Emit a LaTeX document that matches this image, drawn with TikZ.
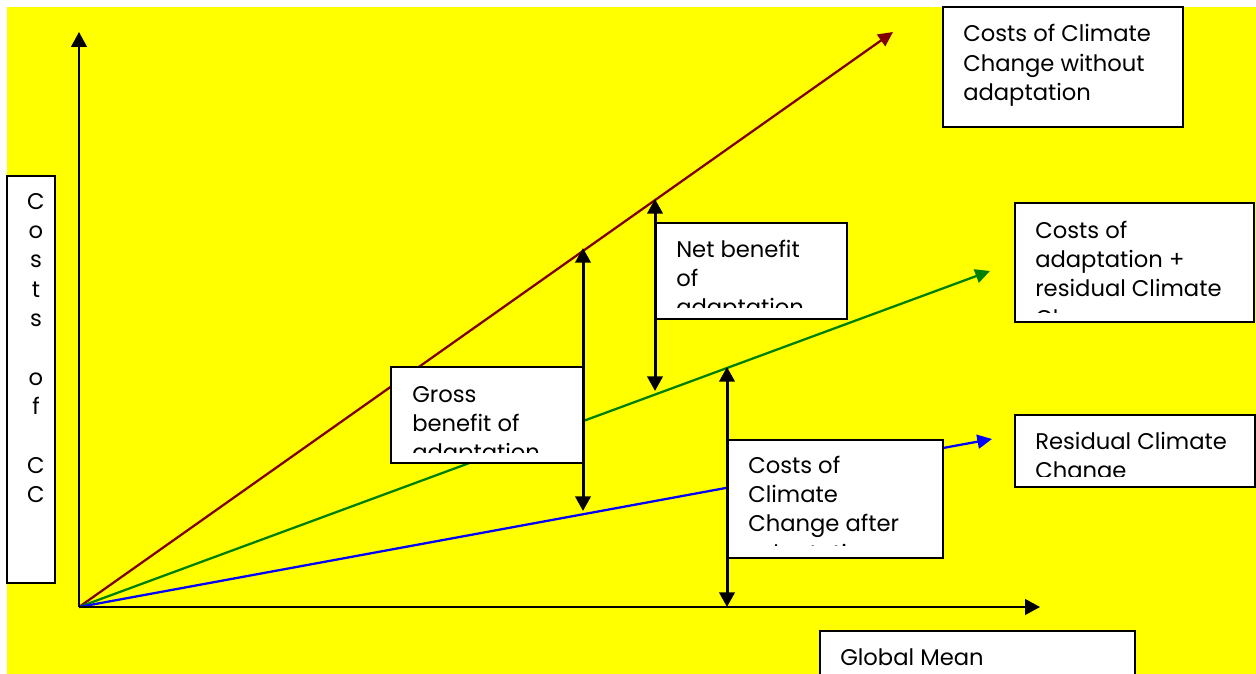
\documentclass[tikz,border=0pt]{standalone}
\usepackage{fontspec}
\newfontfamily\gfont{Poppins}
\usetikzlibrary{arrows.meta}
\definecolor{cyellow}{RGB}{255,255,0}
\definecolor{cred}{RGB}{128,0,0}
\definecolor{cgreen}{RGB}{0,128,0}
\definecolor{cblue}{RGB}{0,0,255}
\begin{document}
\begin{tikzpicture}[x=0.75pt,y=-0.75pt,
  box/.style={draw=black,line width=1pt,fill=white,inner sep=0pt},
  lbl/.style={inner sep=0pt,anchor=base west,font=\gfont\fontsize{17}{22}\selectfont},
  ax/.style={line width=1.5pt,-{Triangle[length=11.25pt,width=11.8pt]}},
  cl/.style={line width=1.7pt,-{Triangle[length=11pt,width=10.5pt]}},
  dbl/.style={line width=2.25pt,{Triangle[length=11pt,width=11.5pt]}-{Triangle[length=11pt,width=11.5pt]}}]
\useasboundingbox (0,0) rectangle (1256,674);
\clip (0,0) rectangle (1256,674);
\fill[white] (0,0) rectangle (1256,674);
\fill[cyellow] (7,7) rectangle (1256,674);

% axes and lines
\coordinate (O) at (79,607);
\coordinate (ytip) at (79,32);
\coordinate (xtip) at (1040,607);
\coordinate (rtip) at (893,32);
\coordinate (gtip) at (990,271);
\coordinate (btip) at (992,439);
\draw[cl,cred] (O) -- (rtip);
\draw[cl,cgreen] (O) -- (gtip);
\draw[cl,cblue] (O) -- (btip);
\draw[ax] (O) -- (ytip);
\draw[ax] (O) -- (xtip);

% boxes
\node[box,minimum width=180pt,minimum height=90pt] (b1) at (1063,67) {};
\node[box,minimum width=179.25pt,minimum height=89.25pt] (b2) at (1134.5,262.5) {};
\node[box,minimum width=180pt,minimum height=54pt] (b3) at (1135,451) {};
\node[box,minimum width=236.25pt,minimum height=44.25pt] (b4) at (977.5,660.5) {};
\node[box,minimum width=144pt,minimum height=72pt] (b5) at (487,415) {};
\node[box,minimum width=144pt,minimum height=72pt] (b6) at (751,271) {};
\node[box,minimum width=162pt,minimum height=88.5pt] (b7) at (835,499) {};
\node[box,line width=0.8pt,minimum width=36pt,minimum height=305.25pt] (b8) at (31,379.5) {};

% texts
\node[lbl] (t1) at (963,42) {\parbox[t]{200pt}{Costs of Climate\\Change without\\adaptation}};
\begin{scope}
\clip (1015,203) rectangle (1254,312);
\node[lbl] (t2) at (1035,238) {\parbox[t]{200pt}{Costs of\\adaptation +\\residual Climate\\Change}};
\end{scope}
\begin{scope}
\clip (1015,415) rectangle (1255,476);
\node[lbl] (t3) at (1035,449) {\parbox[t]{200pt}{Residual Climate\\Change}};
\end{scope}
\node[lbl] (t4) at (840,665) {Global Mean};
\begin{scope}
\clip (391,367) rectangle (583,452);
\node[lbl] (t5) at (412,402) {\parbox[t]{200pt}{Gross\\benefit of\\adaptation}};
\end{scope}
\begin{scope}
\clip (655,223) rectangle (847,307);
\node[lbl] (t6) at (676,257) {\parbox[t]{200pt}{Net benefit\\of\\adaptation}};
\end{scope}
\begin{scope}
\clip (727,440) rectangle (943,545);
\node[lbl] (t7) at (748,473) {\parbox[t]{200pt}{Costs of\\Climate\\Change after\\adaptation}};
\end{scope}
\node[lbl,anchor=base] (t8) at (36,209) {\parbox[t]{30pt}{\centering C\\o\\s\\t\\s\\\mbox{}\\o\\f\\\mbox{}\\C\\C}};

% double arrows
\coordinate (g1) at (583,248);
\coordinate (g2) at (583,511);
\coordinate (n1) at (655,199);
\coordinate (n2) at (655,391);
\coordinate (c1) at (727,367);
\coordinate (c2) at (727,607);
\draw[dbl] (g1) -- (g2);
\draw[dbl] (n1) -- (n2);
\draw[dbl] (c1) -- (c2);
\end{tikzpicture}
\end{document}
